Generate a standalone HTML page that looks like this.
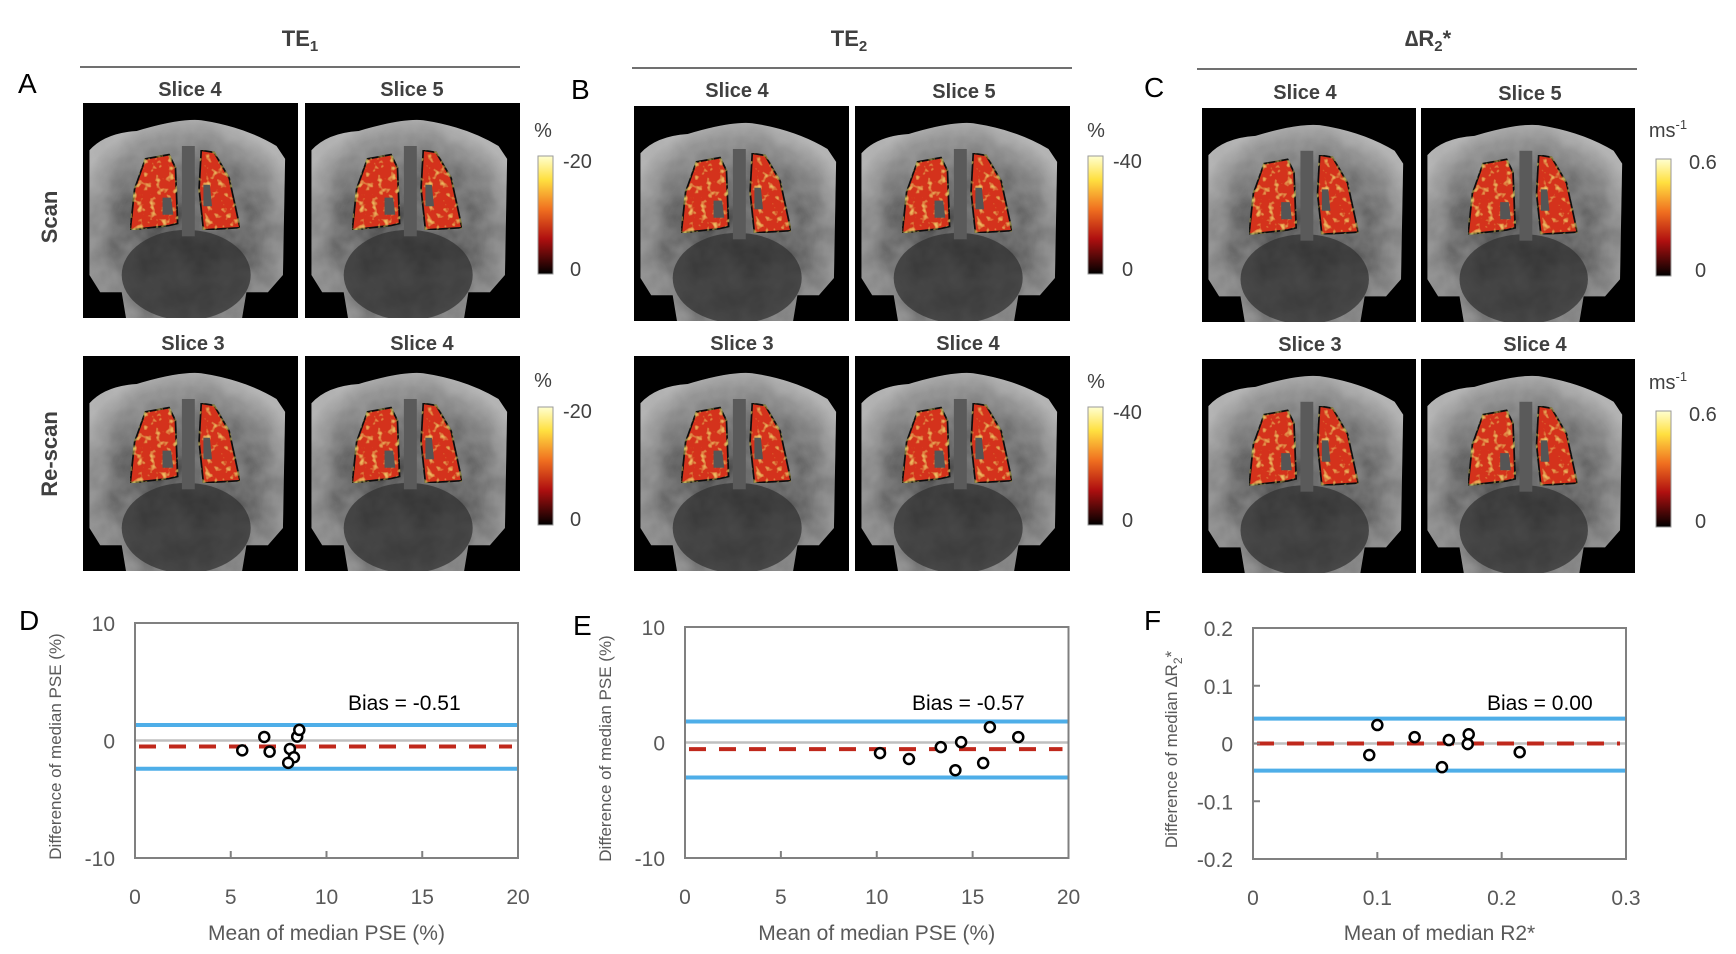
<!DOCTYPE html>
<html><head><meta charset="utf-8"><style>
html,body{margin:0;padding:0;background:#fff;}
svg{display:block;font-family:"Liberation Sans",sans-serif;}
.lbl{fill:#404040;font-size:20px;}
.tk{fill:#595959;font-size:21px;}
.slice{fill:#404040;font-size:20px;font-weight:bold;}
.ttl{fill:#404040;font-size:22px;font-weight:bold;}
.letter{fill:#000;font-size:28px;}
</style></head><body>
<svg id="fig" width="1736" height="954" viewBox="0 0 1736 954" xmlns="http://www.w3.org/2000/svg">
<defs>
<linearGradient id="cbar" x1="0" y1="0" x2="0" y2="1">
<stop offset="0" stop-color="#ffffd0"/><stop offset="0.2" stop-color="#ffe040"/><stop offset="0.45" stop-color="#f07020"/><stop offset="0.7" stop-color="#b01010"/><stop offset="1" stop-color="#000"/>
</linearGradient>
<radialGradient id="bodyg" cx="0.5" cy="0.6" r="0.62">
<stop offset="0" stop-color="#3a3a3a"/><stop offset="0.55" stop-color="#606060"/><stop offset="0.85" stop-color="#8e8e8e"/><stop offset="1" stop-color="#b0b0b0"/>
</radialGradient>
<filter id="bodytex" x="0" y="0" width="1" height="1">
<feTurbulence type="fractalNoise" baseFrequency="0.08" numOctaves="3" seed="7" result="n"/>
<feColorMatrix in="n" type="matrix" values="0 0 0 0 0.55  0 0 0 0 0.55  0 0 0 0 0.55  0 0 0 0.5 -0.12" result="g"/>
<feComposite in="g" in2="SourceGraphic" operator="in" result="gc"/>
<feMerge><feMergeNode in="SourceGraphic"/><feMergeNode in="gc"/></feMerge>
</filter>
<filter id="speck" x="0" y="0" width="1" height="1">
<feTurbulence type="fractalNoise" baseFrequency="0.35" numOctaves="2" seed="3" result="n"/>
<feColorMatrix in="n" type="matrix" values="0 0 0 0 1  0 0 0 0 0.85  0 0 0 0 0.2  0 0 0 2.0 -1.1" result="y"/>
<feComposite in="y" in2="SourceGraphic" operator="in" result="yc"/>
<feMerge><feMergeNode in="SourceGraphic"/><feMergeNode in="yc"/></feMerge>
</filter>
<symbol id="mri" viewBox="0 0 100 100">
<rect width="100" height="100" fill="#000"/>
<path d="M3,22 Q10,14 25,13 Q45,7 55,8 Q75,11 90,20 L94,26 L93,80 L86,88 L76,88 L74,100 L20,100 L18,88 L8,88 L3,80 Z" fill="url(#bodyg)" filter="url(#bodytex)"/>
<ellipse cx="48" cy="80" rx="30" ry="21" fill="#333" opacity="0.75"/>
<rect x="46" y="20" width="6" height="42" fill="#5a5a5a"/>
<g filter="url(#speck)">
<path d="M29,26 L40,24 L43,30 L44,56 L40,57 L22,59 L24,40 Z" fill="#d4301a" stroke="#111" stroke-width="0.8"/>
<path d="M55,22 L61,23 L68,35 L73,58 L56,59 L54,40 Z" fill="#d4301a" stroke="#111" stroke-width="0.8"/>
</g>
<path d="M37,44 L41,44 L42,52 L37,52 Z M56,38 L59,38 L60,48 L56,48 Z" fill="#555"/>
</symbol>
</defs>

<text class="ttl" x="300" y="46" text-anchor="middle">TE<tspan font-size="15" dy="5">1</tspan></text>
<line x1="80" y1="67" x2="520" y2="67" stroke="#404040" stroke-width="1.5"/>
<text class="ttl" x="849" y="46" text-anchor="middle">TE<tspan font-size="15" dy="5">2</tspan></text>
<line x1="632" y1="68" x2="1072" y2="68" stroke="#404040" stroke-width="1.5"/>
<text class="ttl" x="1428" y="46" text-anchor="middle">∆R<tspan font-size="15" dy="5">2</tspan><tspan dy="-5">*</tspan></text>
<line x1="1197" y1="69" x2="1637" y2="69" stroke="#404040" stroke-width="1.5"/>

<text class="letter" x="18" y="93">A</text>
<text class="letter" x="571" y="99">B</text>
<text class="letter" x="1144" y="97">C</text>
<text class="letter" x="19" y="630">D</text>
<text class="letter" x="573" y="635">E</text>
<text class="letter" x="1144" y="630">F</text>

<text class="ttl" transform="translate(57,217) rotate(-90)" text-anchor="middle" fill="#595959">Scan</text>
<text class="ttl" transform="translate(57,454) rotate(-90)" text-anchor="middle" fill="#595959">Re-scan</text>

<g>
<use href="#mri" x="83" y="103" width="215" height="215"/><use href="#mri" x="305" y="103" width="215" height="215"/>
<use href="#mri" x="83" y="356" width="215" height="215"/><use href="#mri" x="305" y="356" width="215" height="215"/>
<use href="#mri" x="634" y="106" width="215" height="215"/><use href="#mri" x="855" y="106" width="215" height="215"/>
<use href="#mri" x="634" y="356" width="215" height="215"/><use href="#mri" x="855" y="356" width="215" height="215"/>
<use href="#mri" x="1202" y="108" width="214" height="214"/><use href="#mri" x="1421" y="108" width="214" height="214"/>
<use href="#mri" x="1202" y="359" width="214" height="214"/><use href="#mri" x="1421" y="359" width="214" height="214"/>
</g>
<g>
<text class="slice" x="190" y="96" text-anchor="middle">Slice 4</text><text class="slice" x="412" y="96" text-anchor="middle">Slice 5</text>
<text class="slice" x="193" y="350" text-anchor="middle">Slice 3</text><text class="slice" x="422" y="350" text-anchor="middle">Slice 4</text>
<text class="slice" x="737" y="97" text-anchor="middle">Slice 4</text><text class="slice" x="964" y="98" text-anchor="middle">Slice 5</text>
<text class="slice" x="742" y="350" text-anchor="middle">Slice 3</text><text class="slice" x="968" y="350" text-anchor="middle">Slice 4</text>
<text class="slice" x="1305" y="99" text-anchor="middle">Slice 4</text><text class="slice" x="1530" y="100" text-anchor="middle">Slice 5</text>
<text class="slice" x="1310" y="351" text-anchor="middle">Slice 3</text><text class="slice" x="1535" y="351" text-anchor="middle">Slice 4</text>
</g>

<g>
<rect x="538" y="156" width="15" height="118" fill="url(#cbar)" stroke="#999"/>
<text class="lbl" x="543" y="137" text-anchor="middle">%</text><text class="lbl" x="563" y="168">-20</text><text class="lbl" x="570" y="276">0</text>
<rect x="538" y="407" width="15" height="118" fill="url(#cbar)" stroke="#999"/>
<text class="lbl" x="543" y="387" text-anchor="middle">%</text><text class="lbl" x="563" y="418">-20</text><text class="lbl" x="570" y="526">0</text>
<rect x="1088" y="156" width="15" height="118" fill="url(#cbar)" stroke="#999"/>
<text class="lbl" x="1096" y="137" text-anchor="middle">%</text><text class="lbl" x="1113" y="168">-40</text><text class="lbl" x="1122" y="276">0</text>
<rect x="1088" y="407" width="15" height="118" fill="url(#cbar)" stroke="#999"/>
<text class="lbl" x="1096" y="388" text-anchor="middle">%</text><text class="lbl" x="1113" y="419">-40</text><text class="lbl" x="1122" y="527">0</text>
<rect x="1656" y="159" width="15" height="117" fill="url(#cbar)" stroke="#999"/>
<text class="lbl" x="1668" y="137" text-anchor="middle">ms<tspan font-size="13" dy="-8">-1</tspan></text><text class="lbl" x="1689" y="169">0.6</text><text class="lbl" x="1695" y="277">0</text>
<rect x="1656" y="411" width="15" height="116" fill="url(#cbar)" stroke="#999"/>
<text class="lbl" x="1668" y="389" text-anchor="middle">ms<tspan font-size="13" dy="-8">-1</tspan></text><text class="lbl" x="1689" y="421">0.6</text><text class="lbl" x="1695" y="528">0</text>
</g>
<g id="charts"></g>
</svg>
<script>
const dX = [5.6, 6.75, 7.03, 8.09, 8.3, 8.0, 8.47, 8.58];
const dY = [-0.84, 0.3, -0.95, -0.72, -1.43, -1.9, 0.33, 0.9];
const eX = [10.17, 11.68, 13.34, 14.4, 14.1, 15.55, 15.9, 17.38];
const eY = [-0.92, -1.43, -0.4, 0.03, -2.4, -1.78, 1.33, 0.47];
const fX = [0.100, 0.0935, 0.130, 0.1575, 0.152, 0.1735, 0.1727, 0.2145];
const fY = [0.032, -0.020, 0.011, 0.006, -0.041, 0.016, -0.001, -0.015];
const biasValues = [-0.51, -0.57, 0.00];
const upperLimits = [1.32, 1.82, 0.043];
const lowerLimits = [-2.4, -3.03, -0.047];
const biasLabels = ["Bias = -0.51", "Bias = -0.57", "Bias = 0.00"];
const pseXTicks = [0, 5, 10, 15, 20];
const pseYTicks = [-10, 0, 10];
const r2XTicks = [0, 0.1, 0.2, 0.3];
const r2YTicks = [-0.2, -0.1, 0, 0.1, 0.2];

const NS = "http://www.w3.org/2000/svg";
const root = document.getElementById('charts');
function mk(tag, attrs, parent){const e=document.createElementNS(NS,tag);for(const k in attrs)e.setAttribute(k,attrs[k]);(parent||root).appendChild(e);return e;}

const panels = [
 {id:'d', box:[135,518,623,858], xd:[0,20], yd:[-10,10], xs:dX, ys:dY, xt:pseXTicks, yt:pseYTicks, yTickMarks:false, xt2:[5,10,15], biasX:348, ytx:61, xtitle:'Mean of median PSE (%)', ytitle:'Difference of median PSE (%)'},
 {id:'e', box:[685,1068.5,627,858], xd:[0,20], yd:[-10,10], xs:eX, ys:eY, xt:pseXTicks, yt:pseYTicks, yTickMarks:false, xt2:[5,10,15], biasX:912, ytx:611, xtitle:'Mean of median PSE (%)', ytitle:'Difference of median PSE (%)'},
 {id:'f', box:[1253,1626,628,859], xd:[0,0.3], yd:[-0.2,0.2], xs:fX, ys:fY, xt:r2XTicks, yt:r2YTicks, yTickMarks:true, xt2:[0.1,0.2], biasX:1487, ytx:1177, xtitle:'Mean of median R2*', ytitle:'R2'}
];
panels.forEach((p,i)=>{
  const [L,R,T,B]=p.box;
  const sx=v=>L+(v-p.xd[0])/(p.xd[1]-p.xd[0])*(R-L);
  const sy=v=>B-(v-p.yd[0])/(p.yd[1]-p.yd[0])*(B-T);
  const g=mk('g',{});
  
  
  const zero=mk('line',{x1:L,x2:R,y1:sy(0),y2:sy(0),stroke:'#bfbfbf','stroke-width':2.5},g);
  
  
  [upperLimits[i],lowerLimits[i]].forEach((v,j)=>{
    const l=mk('line',{x1:L,x2:R,y1:sy(v),y2:sy(v),stroke:'#4eaee8','stroke-width':4},g);
    
    
  });
  const bl=mk('line',{x1:L+4,x2:R-6,y1:sy(biasValues[i]),y2:sy(biasValues[i]),stroke:'#c0281c','stroke-width':4,'stroke-dasharray':'17,13'},g);
  
  
  mk('rect',{x:L,y:T,width:R-L,height:B-T,fill:'none',stroke:'#808080','stroke-width':2},g);
  p.xt2.forEach(v=>mk('line',{x1:sx(v),x2:sx(v),y1:B,y2:B-7,stroke:'#808080','stroke-width':2},g));
  if(p.yTickMarks) p.yt.forEach(v=>mk('line',{x1:L,x2:L+7,y1:sy(v),y2:sy(v),stroke:'#808080','stroke-width':2},g));
  p.xt.forEach(v=>{const t=mk('text',{x:sx(v),y:B+46,'text-anchor':'middle',class:'tk'},g);t.textContent=String(v);
    
    });
  p.yt.forEach(v=>{const t=mk('text',{x:L-20,y:sy(v)+8,'text-anchor':'end',class:'tk'},g);t.textContent=String(v);
    
    });
  const xt=mk('text',{x:(L+R)/2,y:940,'text-anchor':'middle',class:'tk'},g);xt.textContent=p.xtitle;
  
  
  const yt=mk('text',{transform:`translate(${p.ytx},${(T+B)/2+6}) rotate(-90)`,'text-anchor':'middle',fill:'#595959','font-size':17},g);
  if(p.id==='f'){yt.innerHTML='Difference of median ∆R<tspan font-size="12" dy="5">2</tspan><tspan dy="-5">*</tspan>';}
  else yt.textContent=p.ytitle;
  
  
  const bt=mk('text',{x:p.biasX,y:710,fill:'#000','font-size':21},g);bt.textContent=biasLabels[i];
  
  
  p.xs.forEach((v,k)=>{
    const c=mk('circle',{cx:sx(v),cy:sy(p.ys[k]),r:5,fill:'#fff',stroke:'#000','stroke-width':2.5},g);
    
    
  });
});
</script>
</body></html>
